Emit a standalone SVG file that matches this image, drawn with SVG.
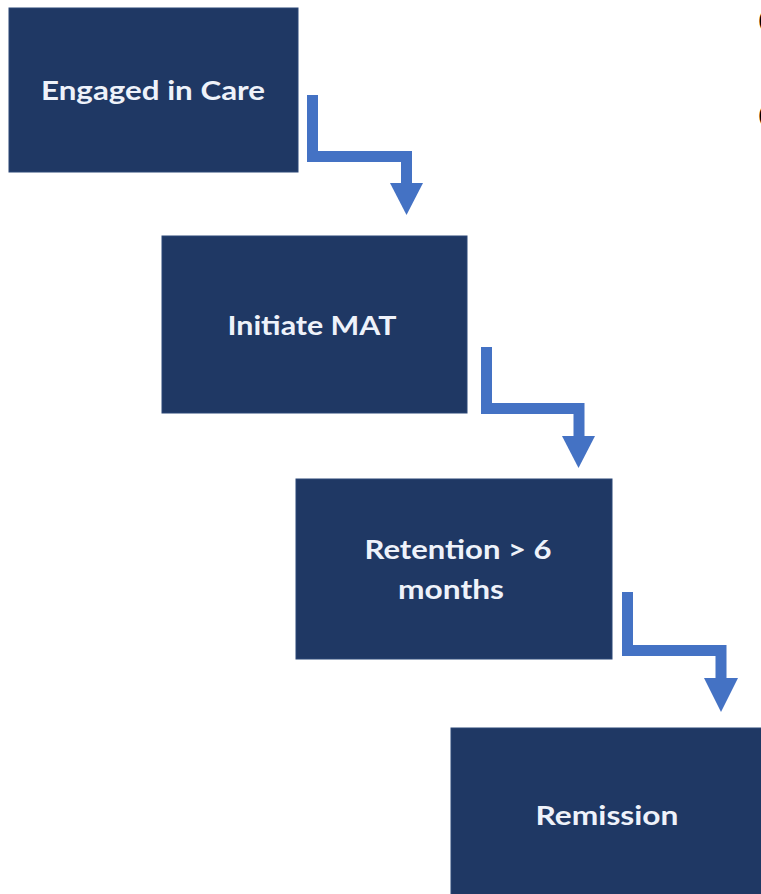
<svg xmlns="http://www.w3.org/2000/svg" width="761" height="894" viewBox="0 0 761 894">
<style>
.box{fill:#1f3864;stroke:#2b4677;stroke-width:1}
.lbl{fill:#eef2fa;font-family:Lato,"Open Sans","Liberation Sans",sans-serif;font-weight:bold;font-size:27px;text-anchor:middle}
.conn{fill:none;stroke:#4472c4;stroke-width:11;stroke-linejoin:miter}
.head{fill:#4472c4}
.edge{fill:#000;font-family:"Liberation Sans",sans-serif;font-size:24px}
</style>
<rect width="761" height="894" fill="#ffffff"/>
<g id="node-engaged">
<rect class="box" x="9" y="8" width="289" height="164"/>
<text class="lbl" x="153" y="100" textLength="224" lengthAdjust="spacingAndGlyphs">Engaged in Care</text>
</g>
<g id="node-initiate">
<rect class="box" x="162" y="236" width="305" height="177"/>
<text class="lbl" x="312" y="335" textLength="169" lengthAdjust="spacingAndGlyphs">Initiate MAT</text>
</g>
<g id="node-retention">
<rect class="box" x="296" y="479" width="316" height="180"/>
<text class="lbl" x="458" y="559" textLength="187" lengthAdjust="spacingAndGlyphs">Retention &gt; 6</text>
<text class="lbl" x="451" y="599" textLength="106" lengthAdjust="spacingAndGlyphs">months</text>
</g>
<g id="node-remission">
<rect class="box" x="451" y="728" width="315" height="170"/>
<text class="lbl" x="607" y="825" textLength="143" lengthAdjust="spacingAndGlyphs">Remission</text>
</g>
<g id="connectors">
<path class="conn" d="M312.5,95 V156.5 H406.5 V184"/>
<polygon class="head" points="390,183 423,183 406.5,215"/>
<path class="conn" d="M486.5,347 V408.5 H579 V437"/>
<polygon class="head" points="562,436 595,436 578.5,468"/>
<path class="conn" d="M627.5,592 V650.5 H721 V679"/>
<polygon class="head" points="704,678 738,678 721,712"/>
</g>
<g id="edge-fragments">
<text class="edge" x="758" y="27">(</text>
<text class="edge" x="758" y="122">(</text>
</g>
</svg>
